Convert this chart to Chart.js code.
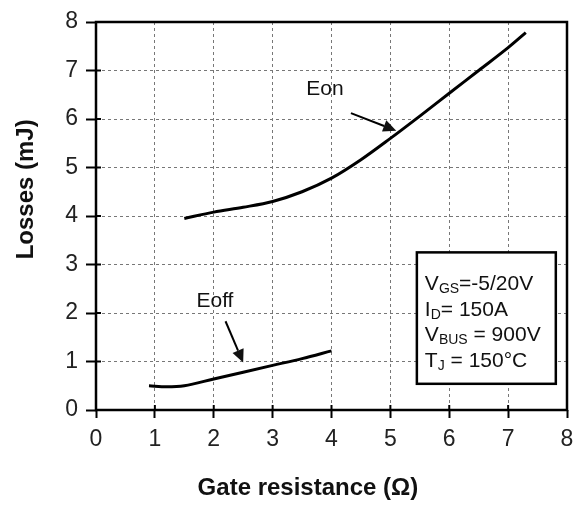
<!DOCTYPE html>
<html>
<head>
<meta charset="utf-8">
<script src="https://cdn.jsdelivr.net/npm/chart.js@4.4.0/dist/chart.umd.min.js"></script>
<style>
  body { margin: 0; background: #fff; }
</style>
</head>
<body>
<canvas id="myChart" width="575" height="510"></canvas>
<script>
// Eon curve (gate resistance in ohm, losses in mJ)
var eonRg   = [1.5, 2, 2.5, 3, 3.5, 4, 4.5, 5, 5.5, 6, 6.5, 7, 7.3];
var eonLoss = [3.95, 4.08, 4.18, 4.3, 4.5, 4.78, 5.16, 5.6, 6.06, 6.53, 7.0, 7.47, 7.78];
// Eoff curve
var eoffRg   = [0.9, 1.2, 1.5, 2, 2.5, 3, 3.5, 4];
var eoffLoss = [0.5, 0.48, 0.5, 0.64, 0.78, 0.92, 1.06, 1.22];
// axes
var xTicks = [0, 1, 2, 3, 4, 5, 6, 7, 8];
var yTicks = [0, 1, 2, 3, 4, 5, 6, 7, 8];
var xTitle = 'Gate resistance (\u03A9)';
var yTitle = 'Losses (mJ)';
// test conditions box
var condRows = [
  [['V', 0], ['GS', 1], ['=-5/20V', 0]],
  [['I', 0], ['D', 1], ['= 150A', 0]],
  [['V', 0], ['BUS', 1], [' = 900V', 0]],
  [['T', 0], ['J', 1], [' = 150\u00B0C', 0]]
];

function toPoints(xs, ys) {
  return xs.map(function(x, i) { return {x: x, y: ys[i]}; });
}

var FONT = '"Liberation Sans", Arial, sans-serif';

// arrows + labels, in data coordinates
var notes = [
  {text: 'Eon',  tx: 3.89, ty: 6.62, x1: 4.33, y1: 6.12, x2: 5.1, y2: 5.76},
  {text: 'Eoff', tx: 2.02, ty: 2.25, x1: 2.2,  y1: 1.83, x2: 2.5, y2: 0.98}
];
var box = {x1: 5.45, x2: 7.81, y1: 3.25, y2: 0.54, rows: [2.64, 2.11, 1.59, 1.06]};

var extras = {
  id: 'extras',
  afterDraw: function(chart) {
    var ctx = chart.ctx;
    var xs = chart.scales.x, ys = chart.scales.y;
    var a = chart.chartArea;
    ctx.save();

    // inward part of tick marks
    ctx.strokeStyle = '#000';
    ctx.lineWidth = 2;
    ctx.setLineDash([]);
    xTicks.forEach(function(v) {
      var px = xs.getPixelForValue(v);
      ctx.beginPath(); ctx.moveTo(px, a.bottom); ctx.lineTo(px, a.bottom - 5); ctx.stroke();
    });
    yTicks.forEach(function(v) {
      var py = ys.getPixelForValue(v);
      ctx.beginPath(); ctx.moveTo(a.left, py); ctx.lineTo(a.left + 5, py); ctx.stroke();
    });

    // frame
    ctx.lineWidth = 2.5;
    ctx.strokeRect(a.left, a.top, a.right - a.left, a.bottom - a.top);

    // axis titles (sit a bit left / above the centre, as in the original)
    ctx.fillStyle = '#111';
    ctx.font = 'bold 24px ' + FONT;
    ctx.textAlign = 'center';
    ctx.textBaseline = 'middle';
    ctx.fillText(xTitle, xs.getPixelForValue(3.6), a.bottom + 78);
    ctx.save();
    ctx.translate(a.left - 70, ys.getPixelForValue(4.55));
    ctx.rotate(-Math.PI / 2);
    ctx.fillText(yTitle, 0, 0);
    ctx.restore();

    // labels and arrows
    ctx.font = '21px ' + FONT;
    notes.forEach(function(n) {
      ctx.fillText(n.text, xs.getPixelForValue(n.tx), ys.getPixelForValue(n.ty));
      var sx = xs.getPixelForValue(n.x1), sy = ys.getPixelForValue(n.y1);
      var ex = xs.getPixelForValue(n.x2), ey = ys.getPixelForValue(n.y2);
      var ang = Math.atan2(ey - sy, ex - sx);
      var hl = 13, hw = 6;
      var bx = ex - hl * Math.cos(ang), by = ey - hl * Math.sin(ang);
      ctx.lineWidth = 2;
      ctx.beginPath(); ctx.moveTo(sx, sy); ctx.lineTo(bx, by); ctx.stroke();
      ctx.beginPath();
      ctx.moveTo(ex, ey);
      ctx.lineTo(bx + hw * Math.sin(ang), by - hw * Math.cos(ang));
      ctx.lineTo(bx - hw * Math.sin(ang), by + hw * Math.cos(ang));
      ctx.closePath();
      ctx.fill();
    });

    // conditions box
    var bl = xs.getPixelForValue(box.x1), br = xs.getPixelForValue(box.x2);
    var bt = ys.getPixelForValue(box.y1), bb = ys.getPixelForValue(box.y2);
    ctx.fillStyle = '#fff';
    ctx.fillRect(bl, bt, br - bl, bb - bt);
    ctx.strokeStyle = '#000';
    ctx.lineWidth = 2.5;
    ctx.strokeRect(bl, bt, br - bl, bb - bt);
    ctx.fillStyle = '#111';
    ctx.textAlign = 'left';
    ctx.textBaseline = 'alphabetic';
    condRows.forEach(function(row, i) {
      var cx = bl + 8;
      var cy = ys.getPixelForValue(box.rows[i]) + 8;
      row.forEach(function(seg) {
        if (seg[1]) {
          ctx.font = '14px ' + FONT;
          ctx.fillText(seg[0], cx, cy + 3);
        } else {
          ctx.font = '21px ' + FONT;
          ctx.fillText(seg[0], cx, cy);
        }
        cx += ctx.measureText(seg[0]).width;
      });
    });

    ctx.restore();
  }
};

var ctx = document.getElementById('myChart').getContext('2d');
var chart = new Chart(ctx, {
  type: 'line',
  data: {
    datasets: [{
      label: 'Eon',
      data: toPoints(eonRg, eonLoss),
      borderColor: '#000',
      borderWidth: 3,
      pointRadius: 0,
      cubicInterpolationMode: 'monotone',
      fill: false
    }, {
      label: 'Eoff',
      data: toPoints(eoffRg, eoffLoss),
      borderColor: '#000',
      borderWidth: 3,
      pointRadius: 0,
      cubicInterpolationMode: 'monotone',
      fill: false
    }]
  },
  options: {
    responsive: false,
    animation: false,
    layout: { padding: { top: 22, right: 0, left: 0, bottom: 0 } },
    plugins: {
      legend: { display: false },
      tooltip: { enabled: false }
    },
    scales: {
      x: {
        type: 'linear',
        min: 0, max: 8,
        afterFit: function(s) { s.height = 100; s.paddingRight = 8; s.paddingLeft = 0; },
        afterBuildTicks: function(s) { s.ticks = xTicks.map(function(v) { return {value: v}; }); },
        ticks: { color: '#222', font: { family: FONT, size: 23 }, padding: 8 },
        grid: {
          color: '#777', lineWidth: 1,
          tickColor: '#000', tickWidth: 2, tickLength: 8, tickBorderDash: []
        },
        border: { display: false, dash: [3, 3] }
      },
      y: {
        min: 0, max: 8,
        afterFit: function(s) { s.width = 96; },
        afterBuildTicks: function(s) { s.ticks = yTicks.map(function(v) { return {value: v}; }); },
        ticks: { color: '#222', font: { family: FONT, size: 23 }, padding: 8 },
        grid: {
          color: '#777', lineWidth: 1,
          tickColor: '#000', tickWidth: 2, tickLength: 10, tickBorderDash: []
        },
        border: { display: false, dash: [3, 3] }
      }
    }
  },
  plugins: [extras]
});
</script>
</body>
</html>
